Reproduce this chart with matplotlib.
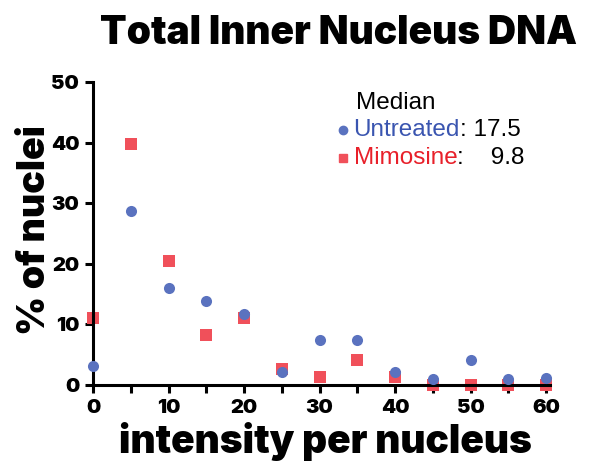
import numpy as np
import matplotlib
matplotlib.use('Agg')
import matplotlib.pyplot as plt

plt.rcParams['font.family'] = ['Liberation Sans', 'DejaVu Sans']

# binned intensity values
intensity = [0, 5, 10, 15, 20, 25, 30, 35, 40, 45, 50, 55, 60]
untreated = [3.1, 28.7, 16.0, 13.9, 11.7, 2.2, 7.4, 7.4, 2.1, 1.0, 4.2, 1.0, 1.1]
mimosine = [11.0, 39.8, 20.5, 8.2, 11.0, 2.7, 1.3, 4.1, 1.3, 0.0, 0.0, 0.0, 0.0]
medians = {'Untreated': '17.5', 'Mimosine': '  9.8'}

blue = '#5a72bf'
red = '#f0505a'
heavy = dict(family='Inter', fontweight=900)

fig = plt.figure(figsize=(5.9, 4.76), dpi=100)
ax = fig.add_axes([0.158, 0.191, 0.774, 0.637])

ax.plot(intensity, untreated, 'o', color=blue, markersize=8, markeredgewidth=0, clip_on=False, zorder=3)
ax.plot(intensity, mimosine, 's', color=red, markersize=8, markeredgewidth=0, clip_on=False, zorder=2)

ax.set_xlim(0, 60.5)
ax.set_ylim(0, 50)
ax.set_xticks(np.arange(0, 61, 10))
ax.set_xticks(np.arange(5, 60, 10), minor=True)
ax.set_yticks(np.arange(0, 51, 10))

for s in ['top', 'right']:
    ax.spines[s].set_visible(False)
for s in ['left', 'bottom']:
    ax.spines[s].set_linewidth(2.2)
ax.tick_params(axis='both', which='both', width=2.2, length=6, direction='out')
ax.tick_params(axis='both', labelsize=14.5, pad=4)
for lbl in ax.get_xticklabels() + ax.get_yticklabels():
    lbl.set_family('Inter')
    lbl.set_fontweight(900)

fig.text(0.574, 0.908, 'Total Inner Nucleus DNA', fontsize=28, ha='center', va='baseline', **heavy)
ax.set_xlabel('intensity per nucleus', fontsize=28, **heavy)
ax.set_ylabel('% of nuclei', fontsize=27, **heavy)
ax.xaxis.set_label_coords(0.508, -0.123)
ax.yaxis.set_label_coords(-0.088, 0.51)

# legend with median values
fs = 17.5
ax.text(0.575, 0.93, 'Median', transform=ax.transAxes, fontsize=fs, va='center')
ax.plot([0.548], [0.84], 'o', color=blue, markersize=6, transform=ax.transAxes, clip_on=False)
ax.plot([0.548], [0.75], 's', color=red, markersize=6, transform=ax.transAxes, clip_on=False)
t1 = ax.text(0.57, 0.84, 'Untreated', transform=ax.transAxes, fontsize=fs, va='center', color='#3a55b0')
ax.annotate(': ' + medians['Untreated'], xy=(1, 0.5), xycoords=t1, va='center', fontsize=fs)
t2 = ax.text(0.57, 0.75, 'Mimosine', transform=ax.transAxes, fontsize=fs, va='center', color='#e8202a')
ax.annotate(':  ' + medians['Mimosine'], xy=(1, 0.5), xycoords=t2, va='center', fontsize=fs)

plt.savefig('out.png', dpi=100)
